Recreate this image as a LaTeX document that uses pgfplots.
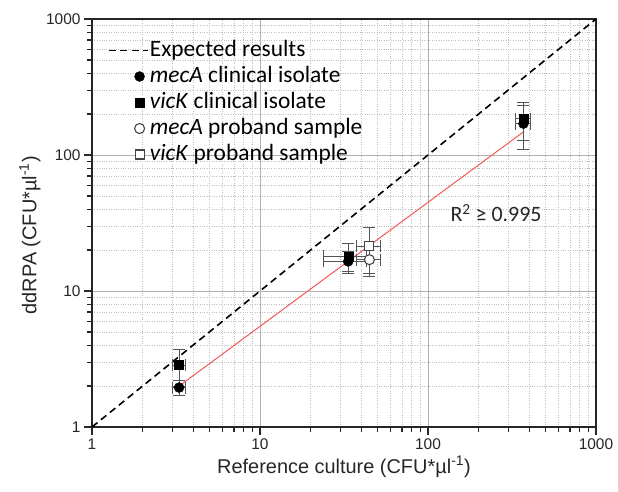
\documentclass[border=0pt]{standalone}
\usepackage{fontspec}
\setmainfont{Liberation Sans}
\newfontfamily\carlito{Carlito}
\usepackage{pgfplots}
\usepackage{pgfplotstable}
\pgfplotsset{compat=1.18}

\definecolor{fitred}{RGB}{240,90,90}
\definecolor{errgray}{RGB}{85,85,85}
\definecolor{opengray}{RGB}{70,70,70}

% x, y, x error, y error
\pgfplotstableread{
x y ex ey
3.3 1.95 0.3 0.25
33.5 16.5 9.5 3.0
370 170 37 60
}\mecAclin
\pgfplotstableread{
x y ex ey
3.3 2.85 0.3 0.85
33.5 18.0 9.5 4.2
370 185 37 58
}\vicKclin
\pgfplotstableread{
x y ex ey
44.8 17.0 7.5 4.2
}\mecAprob
\pgfplotstableread{
x y ex ey
44.8 21.4 7.5 8.0
}\vicKprob

\pgfplotsset{
  myerr/.style={error bars/.cd, x dir=both, x explicit, y dir=both, y explicit,
    error bar style={errgray, line width=1bp},
    error mark=-,
    error mark options={rotate=90, errgray, mark size=6bp, line width=1bp}},
}

\begin{document}
\begin{tikzpicture}
\useasboundingbox (-92bp,-65bp) rectangle (526bp,427bp);
\begin{axis}[
  at={(0,0)}, anchor=south west,
  scale only axis, width=504bp, height=408bp,
  xmode=log, ymode=log,
  xmin=1, xmax=1000, ymin=1, ymax=1000,
  xtick={1,10,100,1000}, ytick={1,10,100,1000},
  xticklabels={1,10,100,1000}, yticklabels={1,10,100,1000},
  minor xtick={2,3,4,5,6,7,8,9,20,30,40,50,60,70,80,90,200,300,400,500,600,700,800,900},
  minor ytick={2,3,4,5,6,7,8,9,20,30,40,50,60,70,80,90,200,300,400,500,600,700,800,900},
  grid=both,
  major grid style={draw=black!30, line width=0.9bp},
  minor grid style={draw=black!25, dotted, line width=0.7bp},
  tick align=outside, tick pos=left,
  major tick length=8bp, minor tick length=5bp,
  every tick/.style={black!85, line width=1.2bp},
  axis line style={line width=1.3bp, black!85},
  /pgf/number format/assume math mode=true,
  tick label style={font=\fontsize{15.5}{18}\selectfont, black!85},
  label style={font=\fontsize{20}{24}\selectfont, black!85},
  xlabel={Reference culture (CFU*µl\textsuperscript{-1})},
  ylabel={ddRPA (CFU*µl\textsuperscript{-1})},
  xlabel style={at={(axis description cs:0.5,-0.098)}, anchor=center},
  ylabel style={at={(axis description cs:-0.123,0.47)}, anchor=center},
  legend cell align=left,
  legend style={at={(axis description cs:0.025,0.96)}, anchor=north west,
    draw=none, fill=none, font=\carlito\fontsize{23.5}{27}\selectfont,
    row sep=0bp,
    nodes={inner sep=1.5bp, text height=17bp, text depth=6bp}},
  legend image code/.code={\draw[mark repeat=2,mark phase=2,#1] plot coordinates {(0bp,0bp) (31bp,0bp) (39bp,0bp)};},
  clip=false,
]
\addplot[black, line width=1.6bp, dash pattern=on 7bp off 4.5bp, mark=none] coordinates {(1,1) (1000,1000)};
\addlegendentry{Expected results}
\addplot[fitred, line width=1bp, mark=none, forget plot] coordinates {(3.3,2.0) (370,148)};

\addplot[only marks, mark=*, mark size=5bp, mark options={fill=white, draw=opengray, line width=1.1bp}, forget plot, myerr]
  table[x=x, y=y, x error=ex, y error=ey] {\mecAprob};
\addplot[only marks, mark=square*, mark size=4.5bp, mark options={fill=white, draw=opengray, line width=1.1bp}, forget plot, myerr]
  table[x=x, y=y, x error=ex, y error=ey] {\vicKprob};

\addplot[only marks, mark=*, mark size=5bp, mark options={fill=black, draw=black}, myerr]
  table[x=x, y=y, x error=ex, y error=ey] {\mecAclin};
\addlegendentry{\textit{mecA} clinical isolate}
\addplot[only marks, mark=square*, mark size=4.5bp, mark options={fill=black, draw=black}, myerr]
  table[x=x, y=y, x error=ex, y error=ey] {\vicKclin};
\addlegendentry{\textit{vicK} clinical isolate}

\addlegendimage{only marks, mark=*, mark size=5bp, mark options={fill=white, draw=opengray, line width=1.1bp}}
\addlegendentry{\textit{mecA} proband sample}
\addlegendimage{only marks, mark=square*, mark size=4.5bp, mark options={fill=white, draw=opengray, line width=1.1bp}}
\addlegendentry{\textit{vicK} proband sample}

\node[font=\carlito\fontsize{22}{26}\selectfont, black!85] at (axis cs:254,37.5) {R\textsuperscript{2} ≥ 0.995};
\end{axis}
\end{tikzpicture}
\end{document}
